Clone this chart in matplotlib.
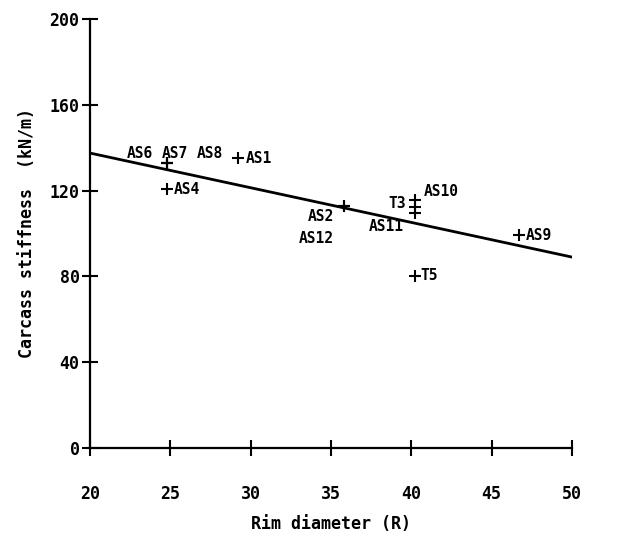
import matplotlib
matplotlib.use("Agg")
import matplotlib.pyplot as plt

# fitted line (end points)
line_rim = [20, 50]
line_stiff = [137.5, 89.0]

# tyre points
names = ["AS1", "AS2", "AS4", "AS6", "AS7", "AS8", "AS9",
         "AS10", "AS11", "AS12", "T3", "T5"]
rim = [29.2, 35.8, 24.8, 24.8, 24.8, 24.8, 46.7,
       40.2, 40.2, 35.8, 40.2, 40.2]
stiff = [135.0, 113.0, 120.7, 132.8, 132.8, 132.8, 99.3,
         115.6, 109.5, 113.0, 112.5, 80.2]

xticks = [20, 25, 30, 35, 40, 45, 50]
yticks = [0, 40, 80, 120, 160, 200]

# label placement: (dx, dy) in pixels from the marker, horizontal alignment
label_pos = {
    "AS1": (8, 0, "left"), "AS4": (7, 0, "left"), "AS9": (7, 0, "left"),
    "T5": (6, 0, "left"), "AS6": (-27, 10, "center"), "AS7": (8, 10, "center"),
    "AS8": (43, 10, "center"), "AS2": (-10, -11, "right"),
    "AS12": (-10, -33, "right"), "AS10": (9, 9, "left"),
    "T3": (-9, 3, "right"), "AS11": (-11, -13, "right"),
}

plt.rcParams["font.family"] = ["DejaVu Sans Mono"]
plt.rcParams["font.weight"] = "bold"

fig = plt.figure(figsize=(6.36, 5.4), dpi=100)
ax = fig.add_axes([90 / 636, 92 / 540, 482 / 636, 429 / 540])

ax.plot(line_rim, line_stiff, color="k", lw=2)
ax.plot(rim, stiff, ls="none", marker="+", ms=9, mew=1.5, color="k")
for n, x, y in zip(names, rim, stiff):
    dx, dy, ha = label_pos[n]
    ax.annotate(n, (x, y), xytext=(dx, dy), textcoords="offset pixels",
                ha=ha, va="center", fontsize=10.5, fontweight="bold")

ax.set_xlim(20, 50)
ax.set_ylim(0, 200)
ax.set_xticks(xticks)
ax.set_yticks(yticks)
for s in ["top", "right"]:
    ax.spines[s].set_visible(False)
for s in ["left", "bottom"]:
    ax.spines[s].set_linewidth(1.6)
ax.tick_params(axis="both", direction="inout", length=11, width=1.5,
               labelsize=12)
ax.tick_params(axis="x", pad=21)
ax.tick_params(axis="y", pad=2)
ax.set_xlabel("Rim diameter (R)", fontsize=12, fontweight="bold", labelpad=9)
ax.set_ylabel("Carcass stiffness  (kN/m)", fontsize=12, fontweight="bold",
              labelpad=10)

fig.savefig("out.png", dpi=100)
